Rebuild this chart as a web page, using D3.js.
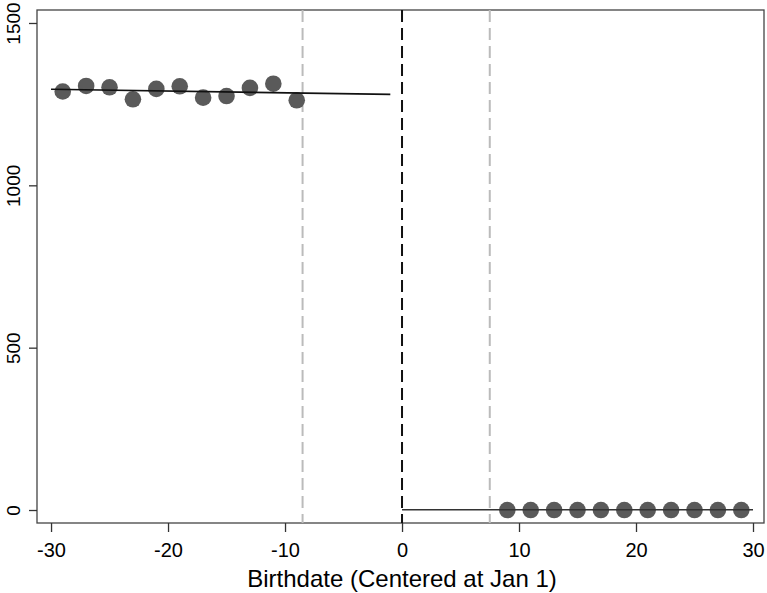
<!DOCTYPE html>
<html><head><meta charset="utf-8">
<script src="https://cdn.jsdelivr.net/npm/d3@7"></script>
<style>body{margin:0;background:#fff}svg{display:block}text{font-family:"Liberation Sans",Arial,sans-serif}</style>
</head><body>
<script>
const leftX = [-29,-27,-25,-23,-21,-19,-17,-15,-13,-11,-9];
const leftY = [1289,1306,1302,1265,1297,1305,1270,1275,1300,1313,1262];
const rightX = [9,11,13,15,17,19,21,23,25,27,29];
const rightY = [0,0,0,0,0,0,0,0,0,0,0];
const leftFitX = [-30,-1];
const leftFitY = [1296,1280];
const rightFitX = [0,30];
const rightFitY = [1,1];
const cutoff = 0;
const bandLines = [-8.5,7.5];
const xTicks = [-30,-20,-10,0,10,20,30];
const yTicks = [0,500,1000,1500];
const xLabel = "Birthdate (Centered at Jan 1)";

const W=767,H=593;
const L=37,R=764,T=10,B=523;
const svg=d3.select("body").append("svg").attr("width",W).attr("height",H);
const x=d3.scaleLinear().domain([-31.2,30.94]).range([L,R]);
const y=d3.scaleLinear().domain([-40,1540]).range([B,T]);

// frame
svg.append("rect").attr("x",L).attr("y",T).attr("width",R-L).attr("height",B-T)
  .attr("fill","none").attr("stroke","#444").attr("stroke-width",1.3);

// dashed verticals
bandLines.forEach(v=>{
  svg.append("line").attr("x1",x(v)).attr("x2",x(v)).attr("y1",T).attr("y2",B)
    .attr("stroke","#bbb").attr("stroke-width",2).attr("stroke-dasharray","12,6");
});
svg.append("line").attr("x1",x(cutoff)).attr("x2",x(cutoff)).attr("y1",T).attr("y2",B)
  .attr("stroke","#111").attr("stroke-width",2).attr("stroke-dasharray","12,6");

// points
const pts=leftX.map((v,i)=>[v,leftY[i]]).concat(rightX.map((v,i)=>[v,rightY[i]]));
svg.selectAll("circle.p").data(pts).enter().append("circle").attr("class","p")
  .attr("cx",d=>x(d[0])).attr("cy",d=>y(d[1])).attr("r",8.3).attr("fill","#5a5a5a");

// fit lines
const line=d3.line().x(d=>x(d[0])).y(d=>y(d[1]));
svg.append("path").attr("d",line(leftFitX.map((v,i)=>[v,leftFitY[i]])))
  .attr("stroke","#111").attr("stroke-width",1.6).attr("fill","none");
svg.append("path").attr("d",line(rightFitX.map((v,i)=>[v,rightFitY[i]])))
  .attr("stroke","#333").attr("stroke-width",1.6).attr("fill","none");

// x axis
const xa=svg.append("g").attr("transform",`translate(0,${B})`)
  .call(d3.axisBottom(x).tickValues(xTicks).tickSize(9).tickPadding(11).tickFormat(d3.format("d")));
xa.select(".domain").remove();
xa.selectAll("line").attr("stroke","#333").attr("stroke-width",1.3);
xa.selectAll("text").attr("font-size",20).attr("fill","#000").text(d=>d<0?"-"+Math.abs(d):d);

// y axis
const ya=svg.append("g").attr("transform",`translate(${L},0)`)
  .call(d3.axisLeft(y).tickValues(yTicks).tickSize(8).tickPadding(0).tickFormat(d3.format("d")));
ya.select(".domain").remove();
ya.selectAll("line").attr("stroke","#333").attr("stroke-width",1.3);
ya.selectAll("text").attr("font-size",19).attr("fill","#000")
  .attr("x",0).attr("dy",0)
  .attr("transform","translate(-24,0) rotate(-90)")
  .attr("text-anchor","middle").attr("dominant-baseline","central");

svg.append("text").attr("x",(x(-30)+x(30))/2).attr("y",587).attr("text-anchor","middle")
  .attr("font-size",24).attr("fill","#000").text(xLabel);
</script>
</body></html>
